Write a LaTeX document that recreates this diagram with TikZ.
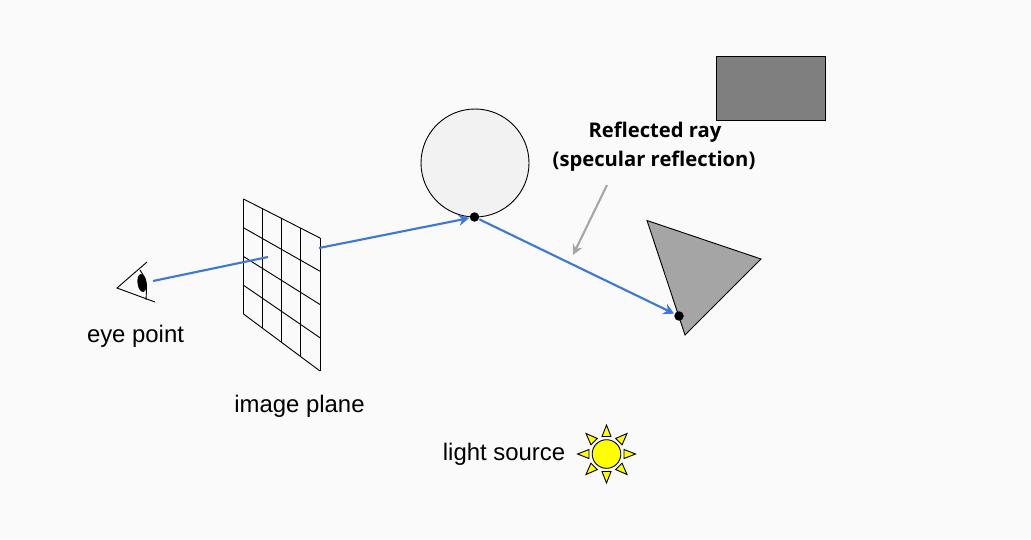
\documentclass[tikz,border=0pt]{standalone}
\usepackage{fontspec}
\usepackage{xcolor}
\setmainfont{Liberation Sans}
\newfontfamily\calloutfont{Open Sans}
\usetikzlibrary{arrows.meta,calc}
\definecolor{pagebg}{HTML}{FAFAFA}
\definecolor{rayblue}{HTML}{3C78D8}
\definecolor{ballfill}{HTML}{F2F2F2}
\definecolor{boxfill}{HTML}{7F7F7F}
\definecolor{wedgefill}{HTML}{A5A5A5}
\definecolor{pointer}{HTML}{A6A6A6}
\definecolor{sunfill}{HTML}{FFFF00}

\begin{document}
\begin{tikzpicture}[
  x=1cm,
  y=1cm,
  every node/.style={font=\fontsize{6.8}{8}\selectfont, black, inner sep=0pt},
  outline/.style={black, line width=0.26pt},
  ray/.style={rayblue, line width=0.6pt},
  rayhead/.style={ray, -{Stealth[length=3pt, width=3.2pt]}},
  callout/.style={pointer, line width=0.6pt, -{Stealth[length=3pt, width=3pt]}},
  hitpt/.style={circle, fill=black, inner sep=0pt, minimum size=2.7pt},
  boldlab/.style={font=\calloutfont\bfseries\fontsize{5.75}{8}\selectfont}
]
  % ---- page ----
  \path[fill=pagebg, use as bounding box] (0,0) rectangle (10.31,5.39);

  % ---- scene objects ----
  \draw[outline, fill=boxfill] (7.16,4.19) rectangle (8.25,4.83);
  \draw[outline, fill=ballfill] (4.75,3.76) circle (0.54);
  \draw[outline, fill=wedgefill] (6.47,3.185) -- (7.61,2.80) -- (6.85,2.04) -- cycle;

  % ---- image plane ----
  \coordinate (gridTL) at (2.435,3.40);
  \coordinate (gridTR) at (3.20,3.01);
  \coordinate (gridBL) at (2.435,2.25);
  \coordinate (gridBR) at (3.20,1.68);
  \foreach \t in {0,0.25,0.5,0.75,1} {
    \draw[outline] ($(gridTL)!\t!(gridTR)$) -- ($(gridBL)!\t!(gridBR)$);
    \draw[outline] ($(gridTL)!\t!(gridBL)$) -- ($(gridTR)!\t!(gridBR)$);
  }

  % ---- eye ----
  \draw[outline] (1.47,2.77) -- (1.17,2.51) -- (1.55,2.37);
  \draw[outline] (1.40,2.69) .. controls (1.47,2.58) .. (1.46,2.39);
  \fill[black, rotate around={8:(1.42,2.56)}] (1.42,2.56) ellipse (0.045 and 0.09);

  % ---- sun ----
  \coordinate (suncentre) at (6.065,0.85);
  \foreach \a in {0,45,...,315}
    \draw[outline, fill=sunfill, shift={(suncentre)}, rotate=\a]
      (0.175,0.045) -- (0.29,0) -- (0.175,-0.045) -- cycle;
  \draw[outline, fill=sunfill] (suncentre) circle (0.143);

  % ---- rays ----
  \node[hitpt] (hitball) at (4.745,3.22) {};
  \node[hitpt] (hitwedge) at (6.79,2.23) {};
  \coordinate (eyestart) at (1.53,2.58);
  \coordinate (planeback) at (2.68,2.82);
  \coordinate (planefront) at (3.19,2.91);
  \draw[ray] (eyestart) -- (planeback);
  \draw[rayhead] (planefront) -- (hitball);
  \draw[rayhead] (hitball) -- (hitwedge);

  % ---- labels ----
  \node (eyelab) at (1.355,2.03) {eye point};
  \node (planelab) at (2.995,1.33) {image plane};
  \node (lightlab) at (5.04,0.85) {light source};
  \node[boldlab] (reflab) at (6.55,4.07) {Reflected ray};
  \node[boldlab] (speclab) at (6.54,3.78) {(specular reflection)};

  % ---- pointer to the reflected ray ----
  \coordinate (pointstart) at (6.07,3.54);
  \coordinate (pointend) at (5.73,2.84);
  \draw[callout] (pointstart) -- (pointend);
\end{tikzpicture}
\end{document}
